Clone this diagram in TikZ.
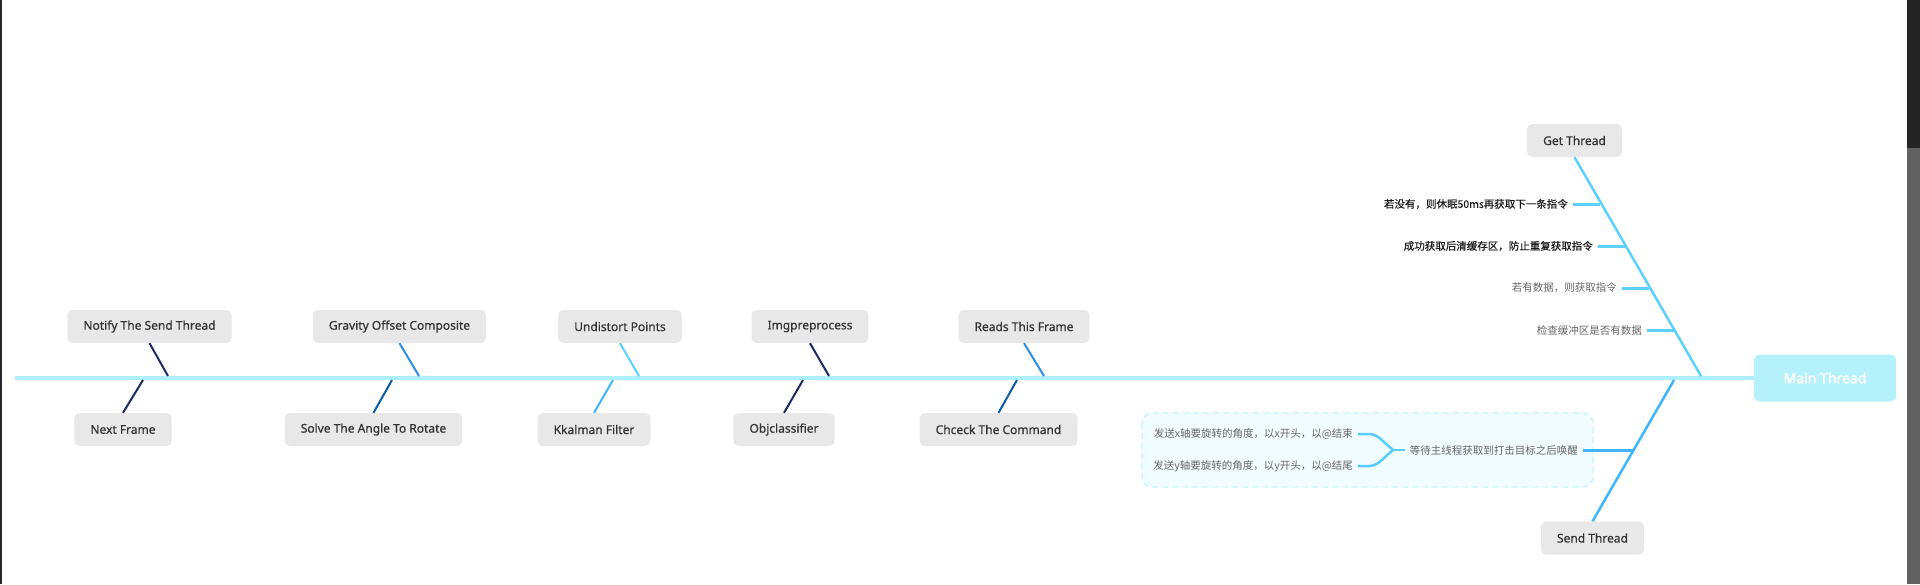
\documentclass[tikz,border=0pt]{standalone}
\usepackage{fontspec}
\setmainfont{Noto Sans}
\newfontfamily\topicfont{Noto Sans}[FakeBold=0.6]
\newfontfamily\mainfont{Noto Sans}[FakeBold=2.2]
\newfontfamily\cjkfont{Noto Sans CJK SC}
\newfontfamily\cjkdark{Noto Sans CJK SC}[FakeBold=0.2]
\definecolor{spinecol}{HTML}{ADEFFB}
\definecolor{maincol}{HTML}{B5F1FB}
\definecolor{boxgray}{HTML}{E8E8E8}
\definecolor{boxtext}{HTML}{333333}
\definecolor{navycol}{HTML}{1E2A66}
\definecolor{midblue}{HTML}{2E8DE6}
\definecolor{darkblue}{HTML}{0A5EA8}
\definecolor{cyanblue}{HTML}{5CD0FF}
\definecolor{skyblue}{HTML}{3DB6FF}
\definecolor{sumfill}{HTML}{F0FCFF}
\definecolor{sumline}{HTML}{C6F2FC}
\definecolor{notegray}{HTML}{666666}
\definecolor{notedark}{HTML}{1A1A1A}
\begin{document}
\begin{tikzpicture}[x=1pt,y=-1pt,
  topic/.style={fill=boxgray,rounded corners=5pt,text=boxtext,font=\topicfont\fontsize{12}{14}\selectfont,minimum height=33pt,inner xsep=16pt,inner ysep=0pt},
  mainbox/.style={fill=maincol,rounded corners=6pt,text=white,font=\mainfont\fontsize{14}{16}\selectfont,minimum width=142pt,minimum height=47pt},
  note/.style={font=\cjkfont\fontsize{10.5}{12}\selectfont,text=notegray,inner xsep=5pt,inner ysep=0pt,anchor=east},
  darknote/.style={note,font=\cjkdark\fontsize{10.5}{12}\selectfont,text=notedark},
  bone/.style={line width=2pt},
  twig/.style={line width=3pt},
  brace/.style={line width=2.5pt,color=cyanblue!85!skyblue}]
\useasboundingbox (0,0) rectangle (1920,584);
\fill[white] (0,0) rectangle (1920,584);
% Drawing frame
\fill[black!85] (0,0) rectangle (2,584);
\fill[black!86] (1907,0) rectangle (1920,148);
\fill[black!62] (1907,148) rectangle (1920,584);
% Drawing spine
\node[mainbox] (main) at (1825,378) {Main Thread};
\coordinate (tail) at (15,378);
\draw[line width=4pt,color=spinecol] (tail) -- (main.west);
% Done with spine; drawing upper bones
\node[topic] (notify) at (149.5,326.5) {Notify The Send Thread};
\coordinate (notifyS) at (168,376);
\draw[bone,color=navycol] (notify.south) -- (notifyS);
\node[topic] (gravity) at (399.5,326.5) {Gravity Offset Composite};
\coordinate (gravityS) at (419,376);
\draw[bone,color=midblue] (gravity.south) -- (gravityS);
\node[topic] (undistort) at (620,326.5) {Undistort Points};
\coordinate (undistortS) at (639,376);
\draw[bone,color=cyanblue] (undistort.south) -- (undistortS);
\node[topic] (imgpre) at (810,326.5) {Imgpreprocess};
\coordinate (imgpreS) at (829,376);
\draw[bone,color=navycol] (imgpre.south) -- (imgpreS);
\node[topic] (reads) at (1024,326.5) {Reads This Frame};
\coordinate (readsS) at (1044,376);
\draw[bone,color=midblue] (reads.south) -- (readsS);
% Done with upper bones; drawing lower bones
\node[topic] (nextfr) at (123,429.5) {Next Frame};
\coordinate (nextfrS) at (143,380);
\draw[bone,color=navycol] (nextfr.north) -- (nextfrS);
\node[topic] (solve) at (373.5,429.5) {Solve The Angle To Rotate};
\coordinate (solveS) at (392,380);
\draw[bone,color=darkblue] (solve.north) -- (solveS);
\node[topic] (kalman) at (594,429.5) {Kkalman Filter};
\coordinate (kalmanS) at (613,380);
\draw[bone,color=skyblue] (kalman.north) -- (kalmanS);
\node[topic] (objcls) at (784,429.5) {Objclassifier};
\coordinate (objclsS) at (803,380);
\draw[bone,color=navycol] (objcls.north) -- (objclsS);
\node[topic] (chceck) at (998.5,429.5) {Chceck The Command};
\coordinate (chceckS) at (1017,380);
\draw[bone,color=darkblue] (chceck.north) -- (chceckS);
% Done with lower bones; drawing get thread
\node[topic] (getthr) at (1574.5,140.5) {Get Thread};
\coordinate (getS) at (1701,376);
\draw[line width=2.5pt,color=cyanblue] (getthr.south) -- (getS);
\coordinate (g1) at (1600,204);
\coordinate (g2) at (1624.5,246);
\coordinate (g3) at (1649,288);
\coordinate (g4) at (1673.5,330);
\node[darknote] (sleep) at (1573,204) {若没有，则休眠50ms再获取下一条指令};
\node[darknote] (clear) at (1598,246) {成功获取后清缓存区，防止重复获取指令};
\node[note] (fetch) at (1622,288) {若有数据，则获取指令};
\node[note] (check) at (1647,330) {检查缓冲区是否有数据};
\draw[twig,color=cyanblue] (sleep.east) -- (g1);
\draw[twig,color=cyanblue] (clear.east) -- (g2);
\draw[twig,color=cyanblue] (fetch.east) -- (g3);
\draw[twig,color=cyanblue] (check.east) -- (g4);
% Done with get thread; drawing send thread
\draw[fill=sumfill,draw=sumline,line width=1.2pt,dash pattern=on 6pt off 4pt,rounded corners=10pt] (1142,413) rectangle (1593,487);
\node[topic] (sendthr) at (1592.5,538) {Send Thread};
\coordinate (sendS) at (1674,380);
\draw[line width=2.5pt,color=skyblue] (sendthr.north) -- (sendS);
\coordinate (s1) at (1633,450);
\node[note] (wait) at (1583,450) {等待主线程获取到打击目标之后唤醒};
\draw[twig,color=skyblue] (wait.east) -- (s1);
\coordinate (jn) at (1393,450);
\node[note] (sendx) at (1358,434) {发送x轴要旋转的角度，以x开头，以@结束};
\node[note] (sendy) at (1358,466) {发送y轴要旋转的角度，以y开头，以@结尾};
\draw[brace,rounded corners=6pt] (sendx.east) -- (1375,434) -- (jn);
\draw[brace,rounded corners=6pt] (sendy.east) -- (1375,466) -- (jn);
\draw[brace] (jn) -- (wait.west);
% Done with send thread
\end{tikzpicture}
\end{document}
